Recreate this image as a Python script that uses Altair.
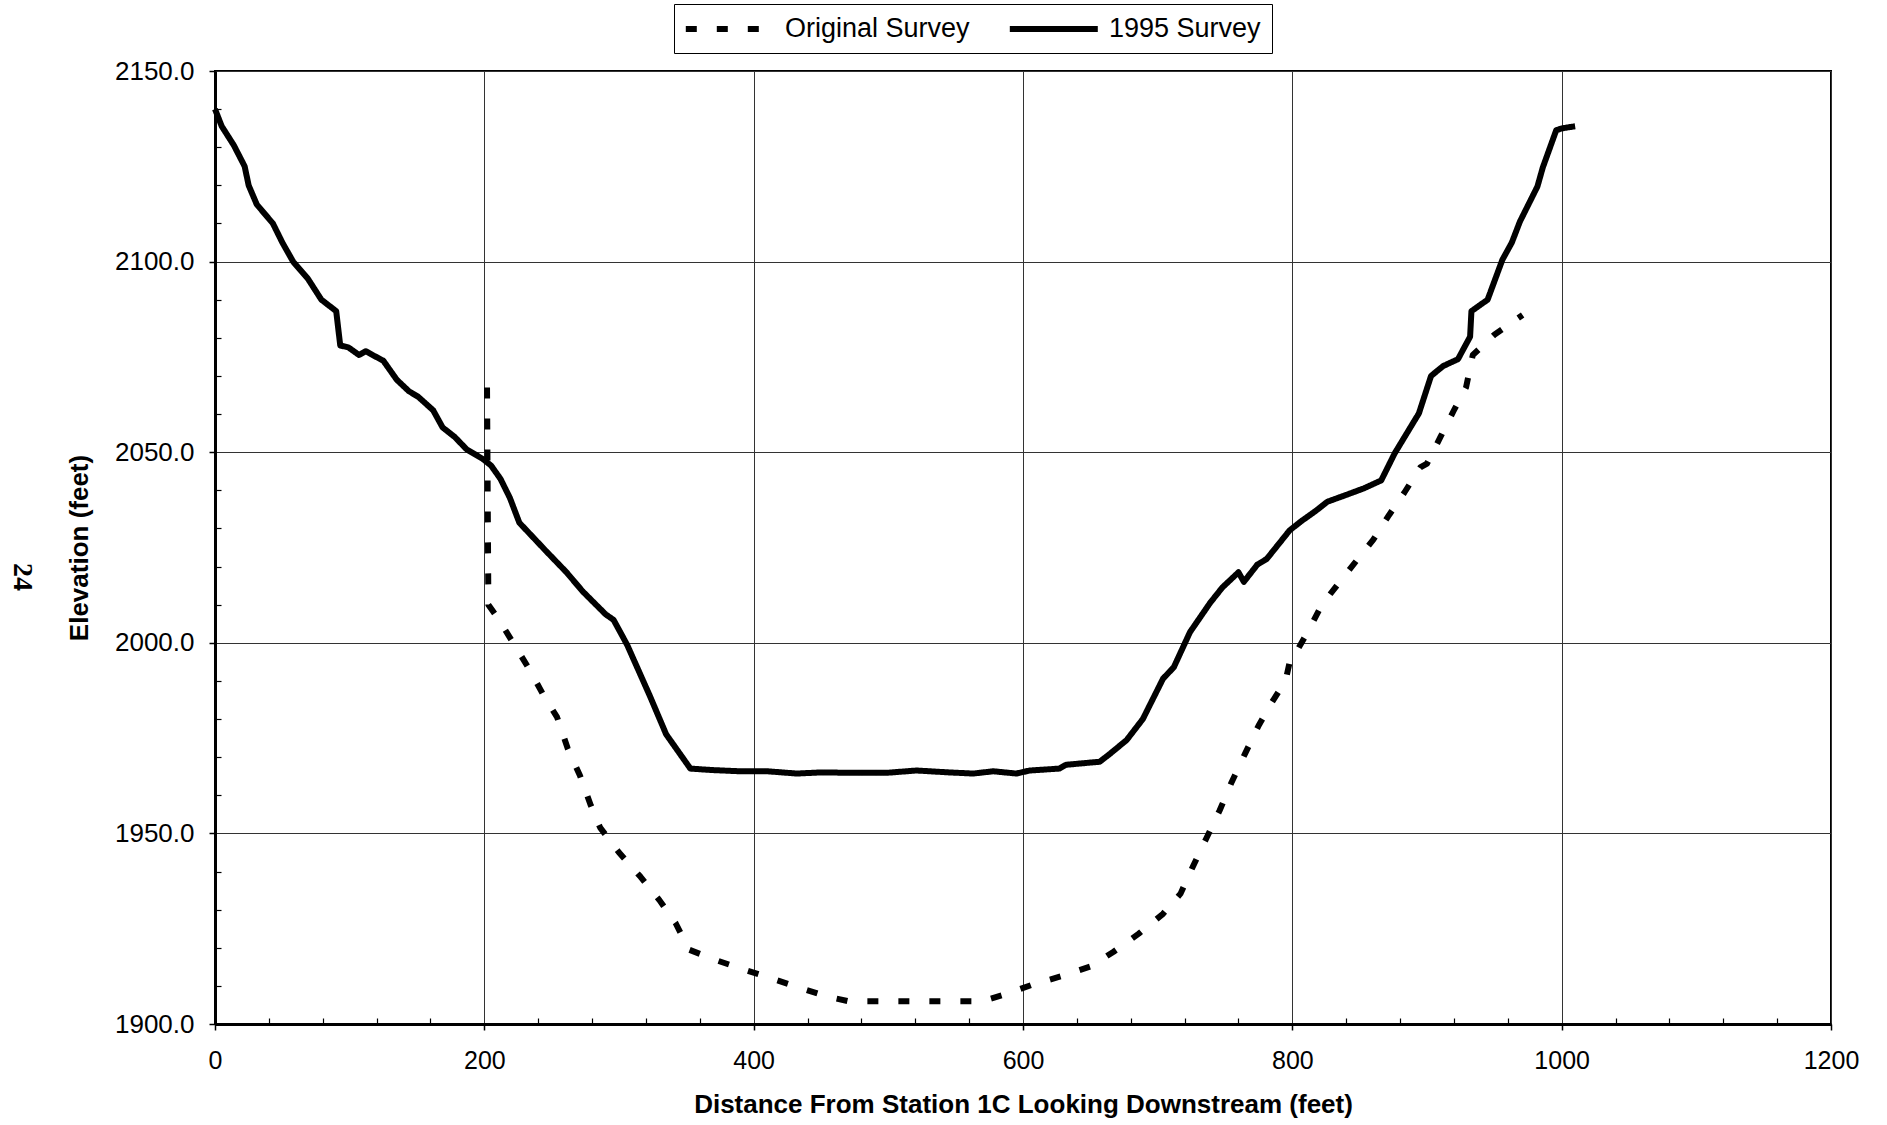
import altair as alt
import pandas as pd

# ---- data ----
series_names = ["Original Survey", "1995 Survey"]

orig_x = [202, 203, 210, 224, 234, 244, 254, 262, 271, 279,
          286, 300, 316, 330, 342, 352, 370, 391, 413, 436,
          457, 470, 520, 570, 586, 606, 629, 651, 667, 686,
          704, 717, 726, 736, 746, 755, 765, 775, 785, 795,
          799, 802, 812, 822, 835, 848, 860, 872, 883, 895,
          900, 910, 920, 929, 934, 950, 971]
orig_y = [2067, 2010, 2006.5, 1998.5, 1992.7, 1986.2, 1980.5, 1972.2, 1965.2, 1957.4,
          1951.5, 1945, 1938.6, 1932.5, 1926.5, 1919.5, 1917, 1914.5, 1912, 1909.3,
          1907, 1906, 1906, 1906, 1907.7, 1910.2, 1912.6, 1915.2, 1918.9, 1923.7,
          1928.9, 1934.2, 1941.2, 1948.6, 1956, 1963.5, 1971, 1978.3, 1984.5, 1990.1,
          1996.5, 1997, 2003.2, 2010, 2015.9, 2021.7, 2027, 2033.6, 2039.3, 2046,
          2047, 2054, 2061, 2067, 2075.5, 2080.8, 2086]

s1995_x = [0, 5, 14, 22, 25, 31, 43, 50, 58, 69,
           79, 90, 93, 99, 107, 112, 117, 125, 135, 144,
           151, 162, 169, 178, 187, 199, 205, 212, 219, 226,
           246, 261, 273, 290, 296, 306, 323, 335, 353, 370,
           390, 410, 432, 450, 471, 499, 521, 545, 563, 578,
           595, 605, 627, 632, 657, 665, 677, 689, 704, 712,
           724, 739, 748, 760, 764, 774, 781, 798, 807, 817,
           826, 840, 853, 858, 866, 876, 894, 903, 912,
           923, 932, 933, 945, 956, 963, 969, 982, 986, 996,
           1001, 1010]
s1995_y = [2140, 2135.5, 2130.5, 2125, 2120, 2115, 2110, 2105, 2100, 2095.5,
           2090, 2087, 2078, 2077.5, 2075.5, 2076.5, 2075.5, 2074, 2069, 2066,
           2064.5, 2061, 2056.5, 2054, 2050.7, 2048.2, 2046.5, 2043, 2038, 2031.5,
           2024, 2018.5, 2013.5, 2007.5, 2006, 1999.5, 1986, 1976, 1967, 1966.6,
           1966.3, 1966.3, 1965.7, 1966, 1965.9, 1965.9, 1966.5, 1966, 1965.7, 1966.3,
           1965.7, 1966.5, 1967, 1968, 1968.8, 1971, 1974.5, 1980, 1990.6, 1993.6,
           2002.8, 2010.5, 2014.5, 2018.5, 2016, 2020.5, 2022, 2029.5, 2032, 2034.5,
           2037, 2038.8, 2040.5, 2041.3, 2042.6, 2049.7, 2060.2, 2070, 2072.6,
           2074.4, 2080.3, 2087, 2090, 2100.5, 2105, 2110.5, 2119.7, 2124.7, 2134.5,
           2135, 2135.5]

x_major = [0, 200, 400, 600, 800, 1000, 1200]
y_major = [1900, 1950, 2000, 2050, 2100, 2150]
x_minor = [v for v in range(40, 1200, 40) if v % 200 != 0]
y_minor = [v for v in range(1910, 2150, 10) if v % 50 != 0]
page_label = ["24"]

assert len(orig_x) == len(orig_y)
assert len(s1995_x) == len(s1995_y)

rows = []
for i, (xv, yv) in enumerate(zip(orig_x, orig_y)):
    rows.append({"x": xv, "y": yv, "series": series_names[0], "idx": i})
for i, (xv, yv) in enumerate(zip(s1995_x, s1995_y)):
    rows.append({"x": xv, "y": yv, "series": series_names[1], "idx": i})
df = pd.DataFrame(rows)

W, H = 1616, 953
TOP, LEFT = 71, 215
FONT = "Liberation Sans"

xscale = alt.Scale(domain=[0, 1200], nice=False, zero=False)
yscale = alt.Scale(domain=[1900, 2150], nice=False, zero=False)

lines = alt.Chart(df).mark_line(strokeWidth=6, color="black", strokeJoin="round").encode(
    x=alt.X("x:Q", scale=xscale, axis=alt.Axis(
        values=x_major, format="d", grid=True, gridColor="#333", gridWidth=1,
        domainColor="black", domainWidth=3, tickColor="black", tickSize=6, tickWidth=1.5,
        labelFont=FONT, labelFontSize=25, labelColor="black", labelPadding=18, labelFlush=False,
        title="Distance From Station 1C Looking Downstream (feet)",
        titleFont=FONT, titleFontSize=26, titleFontWeight="bold", titleColor="black", titlePadding=18)),
    y=alt.Y("y:Q", scale=yscale, axis=alt.Axis(
        values=y_major, format=".1f", grid=True, gridColor="#333", gridWidth=1,
        domainColor="black", domainWidth=3, tickColor="black", tickSize=6, tickWidth=1.5,
        labelFont=FONT, labelFontSize=26, labelColor="black", labelPadding=15, labelFlush=False,
        title="Elevation (feet)",
        titleFont=FONT, titleFontSize=26, titleFontWeight="bold", titleColor="black", titlePadding=22)),
    strokeDash=alt.StrokeDash("series:N", scale=alt.Scale(domain=series_names, range=[[11, 20], [1, 0]]),
                              legend=alt.Legend(
                                  title=None, orient="none", legendX=459, legendY=-67,
                                  direction="horizontal", symbolType="M-1.2,0H6.8", symbolSize=484,
                                  symbolStrokeWidth=6, symbolStrokeColor="black",
                                  labelFont=FONT, labelFontSize=27, labelColor="black",
                                  labelOffset=72, columnPadding=27, padding=11, labelLimit=400,
                                  strokeColor="black", fillColor="white")),
    order=alt.Order("idx:Q"),
    detail="series:N",
)

minor = alt.Chart(df).mark_point(opacity=0).encode(
    x=alt.X("x:Q", scale=xscale, axis=alt.Axis(
        orient="top", offset=-H, values=x_minor, labels=False, domain=False, grid=False,
        tickSize=6, tickColor="black", tickWidth=1.2, title=None)),
    y=alt.Y("y:Q", scale=yscale, axis=alt.Axis(
        orient="right", offset=-W, values=y_minor, labels=False, domain=False, grid=False,
        tickSize=6, tickColor="black", tickWidth=1.2, title=None)),
)

page = alt.Chart(pd.DataFrame({"t": page_label})).mark_text(
    angle=90, font="Liberation Serif", fontSize=28, fontWeight="bold",
    align="center", baseline="middle", color="black",
).encode(x=alt.value(-193), y=alt.value(506), text="t:N")

chart = alt.layer(lines, minor, page).resolve_axis(
    x="independent", y="independent"
).properties(
    width=W, height=H,
    autosize=alt.AutoSizeParams(type="none"),
    padding={"left": LEFT, "top": TOP, "right": 1887 - LEFT - W, "bottom": 1125 - TOP - H},
    background="white",
).configure_view(stroke="black", strokeWidth=2)

chart.save("out.html", embed_options={"renderer": "svg", "actions": False})
